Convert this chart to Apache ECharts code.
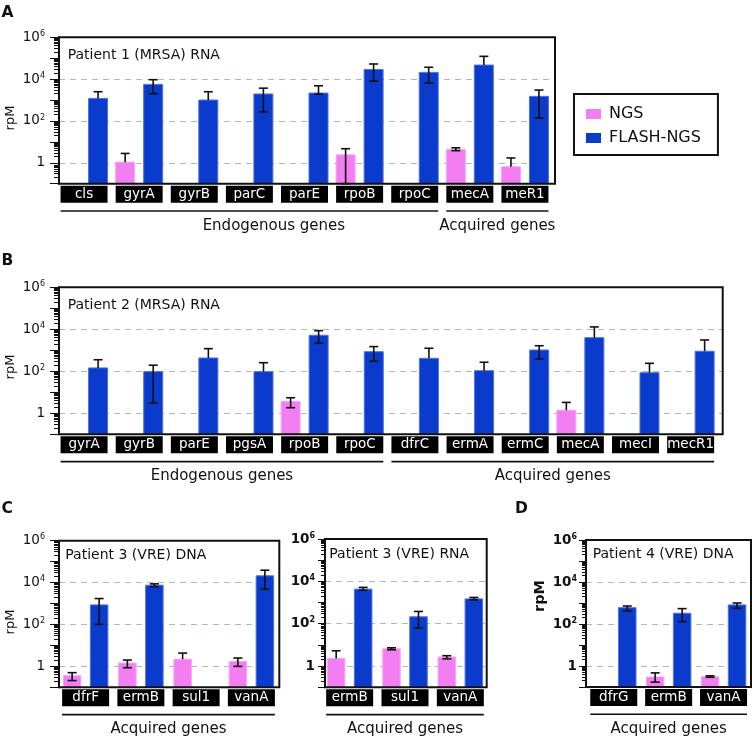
<!DOCTYPE html>
<html><head><meta charset="utf-8">
<script src="https://cdn.jsdelivr.net/npm/echarts@6/dist/echarts.min.js"></script>
<style>html,body{margin:0;padding:0;background:#fff}#c{width:752px;height:743px}</style>
</head><body><div id="c"></div><script>
// ---------- DATA (rpM) ----------
// Panel A: Patient 1 (MRSA) RNA
const catsA = ['cls','gyrA','gyrB','parC','parE','rpoB','rpoC','mecA','meR1'];
const ngsA     = [null, 1.07, null, null, null, 2.4,  null, 4.4,  0.65];
const ngsALo   = [null, null, null, null, null, 0.1,  null, 3.8,  null];
const ngsAHi   = [null, 2.8,  null, null, null, 4.7,  null, 5.2,  1.7];
const flashA   = [1200, 5600, 1000, 1950, 2150, 29000, 21000, 47000, 1500];
const flashALo = [null, 2000, null, 270,  1900, 8100,  6500,  null,  137];
const flashAHi = [2500, 9400, 2500, 3700, 4800, 53000, 37000, 123000, 3000];
const groupsA  = [['Endogenous genes','cls','rpoC'], ['Acquired genes','mecA','meR1']];

// Panel B: Patient 2 (MRSA) RNA
const catsB = ['gyrA','gyrB','parE','pgsA','rpoB','rpoC','dfrC','ermA','ermC','mecA','mecI','mecR1'];
const ngsB     = [null, null, null, null, 3.7,  null, null, null, null, 1.4,  null, null];
const ngsBLo   = [null, null, null, null, 1.85, null, null, null, null, null, null, null];
const ngsBHi   = [null, null, null, null, 5.5,  null, null, null, null, 3.3,  null, null];
const flashB   = [145, 96,  430,  96,  5200, 860,  415,  107, 1030, 4000,  86,  900];
const flashBLo = [null, 3.1, null, null, 2150, 300, null, null, 385, null, null, null];
const flashBHi = [355, 195, 1200, 257, 8600, 1500, 1250, 270, 1650, 13000, 240, 3100];
const groupsB  = [['Endogenous genes','gyrA','rpoC'], ['Acquired genes','dfrC','mecR1']];

// Panel C (left): Patient 3 (VRE) DNA
const catsC1 = ['dfrF','ermB','sul1','vanA'];
const ngsC1     = [0.36, 1.44, 2.2,  1.7];
const ngsC1Lo   = [0.21, 0.86, null, 1.0];
const ngsC1Hi   = [0.5,  2.0,  4.3,  2.5];
const flashC1   = [860,  7500, null, 21000];
const flashC1Lo = [102,  6400, null, 4800];
const flashC1Hi = [1730, 8700, null, 39000];
const groupsC1  = [['Acquired genes','dfrF','vanA']];

// Panel C (right): Patient 3 (VRE) RNA
const catsC2 = ['ermB','sul1','vanA'];
const ngsC2     = [2.3,  6.6, 2.7];
const ngsC2Lo   = [null, 5.9, 2.2];
const ngsC2Hi   = [5.3,  7.3, 3.1];
const flashC2   = [4300, 213, 1490];
const flashC2Lo = [3800, 62,  1340];
const flashC2Hi = [5200, 380, 1740];
const groupsC2  = [['Acquired genes','ermB','vanA']];

// Panel D: Patient 4 (VRE) DNA
const catsD = ['dfrG','ermB','vanA'];
const ngsD     = [null, 0.30, 0.31];
const ngsDLo   = [null, 0.17, 0.29];
const ngsDHi   = [null, 0.47, 0.34];
const flashD   = [600, 325, 810];
const flashDLo = [420, 130, 560];
const flashDHi = [720, 540, 1000];
const groupsD  = [['Acquired genes','dfrG','vanA']];

const titles = ['Patient 1 (MRSA) RNA','Patient 2 (MRSA) RNA','Patient 3 (VRE) DNA','Patient 3 (VRE) RNA','Patient 4 (VRE) DNA'];
const seriesNames = ['NGS','FLASH-NGS'];
const yName = 'rpM';

// ---------- STYLE / LAYOUT ----------
const FONT = "'DejaVu Sans', sans-serif";
const INK = '#111';
const PINK = '#f27ef2', PINK_B = '#f6a6f6', BLUE = '#0a3bcc', BLUE_B = '#4e71e0';
const MAJOR = [0.1, 1, 10, 100, 1e3, 1e4, 1e5, 1e6];
const LABELED = [1, 100, 1e4, 1e6];
const GRIDV = [1, 100, 1e4];
const MINOR = [];
for (let e = -1; e < 6; e++) for (let k = 2; k < 10; k++) MINOR.push(+(k * Math.pow(10, e)).toPrecision(6));

const panels = [
  {cats: catsA, ngs: ngsA, ngsLo: ngsALo, ngsHi: ngsAHi, fl: flashA, flLo: flashALo, flHi: flashAHi, groups: groupsA, title: titles[0],
   L: {frame: [59, 37.3, 496, 146.4], dataLeft: 56.5, dataWidth: 496, barW: 19, gap: 9, tick: 9, minor: 5, margin: 14, bold: false,
       titlePos: [67.7, 55.7], rpm: [10.5, 118], letter: 'A', letterPos: [1.5, 12.5], groupShift: [24.5, 0]}},
  {cats: catsB, ngs: ngsB, ngsLo: ngsBLo, ngsHi: ngsBHi, fl: flashB, flLo: flashBLo, flHi: flashBHi, groups: groupsB, title: titles[1],
   L: {frame: [59, 287.3, 663.7, 147], dataLeft: 56.5, dataWidth: 661.7, barW: 19, gap: 9, tick: 9, minor: 5, margin: 14, bold: false,
       titlePos: [67.7, 305.7], rpm: [10.5, 367], letter: 'B', letterPos: [1.5, 261.3], groupShift: [0, 0]}},
  {cats: catsC1, ngs: ngsC1, ngsLo: ngsC1Lo, ngsHi: ngsC1Hi, fl: flashC1, flLo: flashC1Lo, flHi: flashC1Hi, groups: groupsC1, title: titles[2],
   L: {frame: [59, 540.7, 220.3, 146.6], dataLeft: 58, dataWidth: 221, barW: 17.5, gap: 9.5, tick: 9, minor: 5, margin: 14, bold: false,
       titlePos: [65.3, 555], rpm: [10.5, 622], letter: 'C', letterPos: [1.5, 509], groupShift: [0]}},
  {cats: catsC2, ngs: ngsC2, ngsLo: ngsC2Lo, ngsHi: ngsC2Hi, fl: flashC2, flLo: flashC2Lo, flHi: flashC2Hi, groups: groupsC2, title: titles[3],
   L: {frame: [325, 539, 161.7, 148.3], dataLeft: 322, dataWidth: 166, barW: 17.5, gap: 9.5, tick: 7, minor: 4, margin: 10, bold: true,
       titlePos: [329.3, 554], rpm: null, letter: null, groupShift: [0]}},
  {cats: catsD, ngs: ngsD, ngsLo: ngsDLo, ngsHi: ngsDHi, fl: flashD, flLo: flashDLo, flHi: flashDHi, groups: groupsD, title: titles[4],
   L: {frame: [586, 540, 165, 147], dataLeft: 586.3, dataWidth: 164.7, barW: 17.5, gap: 9.5, tick: 7, minor: 4, margin: 9, bold: true,
       titlePos: [592.7, 554], rpm: [540.5, 596], letter: 'D', letterPos: [515, 509], groupShift: [0]}}
];

function tickFormatter(v) {
  const e = Math.round(Math.log10(v));
  return e === 0 ? '{b|1}' : '{b|10}{s|' + e + '}';
}
function barRender(sign, L) {
  return function (params, api) {
    const v = api.value(1);
    if (isNaN(v)) return;
    const cs = params.coordSys;
    const c = api.coord([api.value(0), v]);
    const cx = c[0] + sign * (L.barW + L.gap) / 2;
    const base = cs.y + cs.height;
    return {type: 'rect', shape: {x: cx - L.barW / 2, y: c[1], width: L.barW, height: base - c[1]}, style: api.style()};
  };
}
function errRender(sign, L) {
  return function (params, api) {
    const i = api.value(0), m = api.value(1), lo = api.value(2), hi = api.value(3);
    if (isNaN(m) || isNaN(hi)) return;
    const cx = api.coord([i, m])[0] + sign * (L.barW + L.gap) / 2;
    const yHi = api.coord([i, hi])[1];
    const hasLo = !isNaN(lo);
    const yLo = api.coord([i, hasLo ? lo : m])[1];
    const st = {stroke: INK, lineWidth: 1.6};
    const capW = 9;
    const ch = [
      {type: 'line', shape: {x1: cx, y1: yHi, x2: cx, y2: yLo}, style: st},
      {type: 'line', shape: {x1: cx - capW / 2, y1: yHi, x2: cx + capW / 2, y2: yHi}, style: st}
    ];
    if (hasLo) ch.push({type: 'line', shape: {x1: cx - capW / 2, y1: yLo, x2: cx + capW / 2, y2: yLo}, style: st});
    return {type: 'group', children: ch};
  };
}
function rows(vals, lo, hi) {
  const out = [];
  vals.forEach((v, i) => { if (v != null) out.push([i, v, lo[i], hi[i]]); });
  return out;
}

const grid = [], xAxis = [], yAxis = [], series = [];
panels.forEach((p, k) => {
  const L = p.L;
  const [fl, ft, fw, fh] = L.frame;
  const fw8 = L.bold ? 'bold' : 'normal';
  grid.push({left: fl, top: ft, width: fw, height: fh, show: true, borderColor: INK, borderWidth: 2, backgroundColor: 'transparent', z: 10});
  grid.push({left: L.dataLeft, top: ft, width: L.dataWidth, height: fh, show: false});
  xAxis.push({type: 'value', gridIndex: 2 * k, show: false, min: 0, max: 1});
  xAxis.push({type: 'category', gridIndex: 2 * k + 1, data: p.cats, axisLine: {show: false}, axisTick: {show: false},
    axisLabel: {interval: 0, color: '#fff', backgroundColor: '#000', width: 47, height: 17, lineHeight: 17, align: 'center',
      fontSize: 13.5, fontFamily: FONT, margin: 2, padding: 0, overflow: 'none'}});
  const yb = {type: 'log', logBase: 10, min: 0.1, max: 1e6, position: 'left'};
  yAxis.push(Object.assign({}, yb, {gridIndex: 2 * k, z: 10,
    axisLine: {show: true, lineStyle: {color: INK, width: 2}},
    axisTick: {show: true, length: L.tick, customValues: MAJOR, lineStyle: {color: INK, width: 1}},
    axisLabel: {show: true, customValues: LABELED, margin: L.margin, formatter: tickFormatter,
      rich: {b: {fontSize: 13.5, fontFamily: FONT, color: INK, fontWeight: fw8, lineHeight: 15},
             s: {fontSize: 8, fontFamily: FONT, color: INK, fontWeight: fw8, verticalAlign: 'top', lineHeight: 15, padding: [0, 0, 6, 0]}}},
    splitLine: {show: false}}));
  yAxis.push(Object.assign({}, yb, {gridIndex: 2 * k, z: 10, axisLine: {show: false},
    axisTick: {show: true, length: L.minor, customValues: MINOR, lineStyle: {color: INK, width: 1}},
    axisLabel: {show: false}, splitLine: {show: false}}));
  yAxis.push(Object.assign({}, yb, {gridIndex: 2 * k, z: 0, axisLine: {show: false},
    axisTick: {show: false, customValues: GRIDV}, axisLabel: {show: false},
    splitLine: {show: true, lineStyle: {color: '#a9bdb8', type: [6, 5], width: 1}}}));
  yAxis.push(Object.assign({}, yb, {gridIndex: 2 * k + 1, show: false}));
  const xi = 2 * k + 1, yi = 4 * k + 3;
  series.push({type: 'custom', name: seriesNames[0], xAxisIndex: xi, yAxisIndex: yi, z: 2,
    itemStyle: {color: PINK, borderColor: PINK_B, borderWidth: 1}, data: rows(p.ngs, p.ngsLo, p.ngsHi), renderItem: barRender(-1, L)});
  series.push({type: 'custom', name: seriesNames[1], xAxisIndex: xi, yAxisIndex: yi, z: 2,
    itemStyle: {color: BLUE, borderColor: BLUE_B, borderWidth: 1}, data: rows(p.fl, p.flLo, p.flHi), renderItem: barRender(1, L)});
  series.push({type: 'custom', name: 'err-ngs', xAxisIndex: xi, yAxisIndex: yi, z: 3,
    data: rows(p.ngs, p.ngsLo, p.ngsHi), renderItem: errRender(-1, L)});
  series.push({type: 'custom', name: 'err-flash', xAxisIndex: xi, yAxisIndex: yi, z: 3,
    data: rows(p.fl, p.flLo, p.flHi), renderItem: errRender(1, L)});
});

const option = {
  animation: false,
  backgroundColor: '#fff',
  textStyle: {fontFamily: FONT},
  legend: {data: seriesNames, orient: 'vertical', left: 574, top: 94, padding: [11, 17, 8, 12], itemGap: 6,
    itemWidth: 15, itemHeight: 10, icon: 'rect', borderColor: INK, borderWidth: 2, borderRadius: 0,
    itemStyle: {borderWidth: 0},
    textStyle: {fontSize: 16, fontFamily: FONT, color: INK, lineHeight: 18, padding: [0, 0, 0, 3]}},
  grid, xAxis, yAxis, series
};

const chart = echarts.init(document.getElementById('c'), null, {renderer: 'canvas'});
chart.setOption(option);

const graphic = [];
panels.forEach((p, k) => {
  const L = p.L;
  const bottom = L.frame[1] + L.frame[3];
  p.groups.forEach((g, gi) => {
    const x1 = chart.convertToPixel({xAxisIndex: 2 * k + 1}, g[1]) - 23.5;
    const x2 = chart.convertToPixel({xAxisIndex: 2 * k + 1}, g[2]) + 23.5;
    graphic.push({type: 'line', shape: {x1: x1, y1: bottom + 27.3, x2: x2, y2: bottom + 27.3}, style: {stroke: INK, lineWidth: 1.6}});
    graphic.push({type: 'text', x: (x1 + x2) / 2 + (L.groupShift[gi] || 0), y: bottom + 42,
      style: {text: g[0], fontSize: 15, fontFamily: FONT, fill: INK, align: 'center', verticalAlign: 'middle'}});
  });
  graphic.push({type: 'text', x: L.titlePos[0], y: L.titlePos[1],
    style: {text: p.title, fontSize: 14, fontFamily: FONT, fill: INK, align: 'left', verticalAlign: 'middle'}});
  if (L.rpm) graphic.push({type: 'text', x: L.rpm[0], y: L.rpm[1], rotation: Math.PI / 2,
    style: {text: yName, fontSize: L.bold ? 14.5 : 13, fontFamily: FONT, fill: INK, fontWeight: L.bold ? 'bold' : 'normal', align: 'center', verticalAlign: 'middle'}});
  if (L.letter) graphic.push({type: 'text', x: L.letterPos[0], y: L.letterPos[1],
    style: {text: L.letter, fontSize: 15.5, fontWeight: 'bold', fontFamily: FONT, fill: INK, align: 'left', verticalAlign: 'middle'}});
});
chart.setOption({graphic: graphic});
</script></body></html>
